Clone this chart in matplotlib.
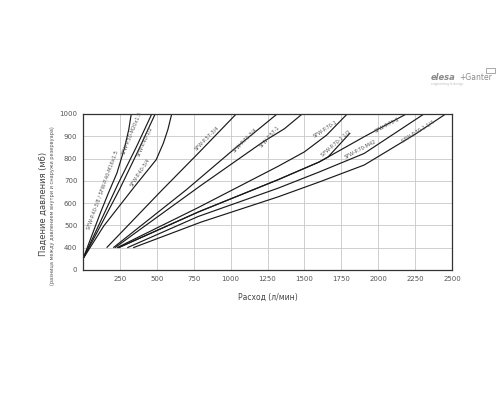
import matplotlib
matplotlib.use("Agg")
import matplotlib.pyplot as plt
from matplotlib.patches import Rectangle

# ---------------- data ----------------
a_x = [0, 60, 120, 175, 230, 280, 310, 327]
a_y = [350, 455, 560, 650, 735, 845, 930, 1000]
b_x = [0, 120, 240, 360, 466]
b_y = [350, 520, 690, 850, 1000]
c_x = [0, 120, 250, 370, 489]
c_y = [350, 500, 665, 830, 1000]
d_x = [0, 140, 350, 496, 545, 575, 601]
d_y = [350, 497, 675, 795, 870, 930, 1000]
e_x = [160, 530, 790, 1038]
e_y = [400, 655, 830, 1000]
f_x = [205, 700, 1016, 1315]
f_y = [400, 660, 838, 1000]
g_x = [216, 800, 1218, 1365, 1485]
g_y = [400, 680, 874, 934, 1000]
h_x = [230, 780, 1321, 1500, 1650, 1790]
h_y = [400, 580, 765, 830, 905, 1000]
i_x = [240, 780, 1321, 1601, 1660, 1810]
i_y = [400, 560, 705, 785, 807, 915]
j_x = [240, 780, 1321, 1601, 1905, 2190]
j_y = [400, 560, 705, 785, 898, 1000]
k_x = [300, 780, 1321, 1601, 1905, 2310]
k_y = [400, 540, 667, 740, 823, 1000]
l_x = [340, 800, 1321, 1601, 1905, 2243, 2457]
l_y = [400, 515, 628, 695, 771, 906, 1000]

series = [
    (a_x, a_y), (b_x, b_y), (c_x, c_y), (d_x, d_y), (e_x, e_y), (f_x, f_y),
    (g_x, g_y), (h_x, h_y), (i_x, i_y), (j_x, j_y), (k_x, k_y), (l_x, l_y),
]

labels = [
    "SFW-P.40-3/8 / SFW-P.40-M16x1.5", "SFW-P.50-M20x1.5", "SFW-P.40-1/2",
    "SFW-P.40-3/4", "SFW-P.57-3/4", "SFW-P.70-3/4", "SFW-P.57-1", "SFW-P.70-1",
    "SFW-P.70-1 1/2", "SFW-P.70-M42", "SFW-P.70-2", "SFW-P.70-1 1/4",
]
label_x = [135, 330, 413, 385, 835, 1095, 1263, 1640, 1714, 1877, 2063, 2266]
label_y = [660, 915, 876, 737, 890, 883, 898, 930, 867, 840, 949, 920]
label_rot = [70, 68, 66, 57, 45, 45, 48, 33, 41, 28, 28, 32]

x_ticks = [250, 500, 750, 1000, 1250, 1500, 1750, 2000, 2250, 2500]
y_ticks = [300, 400, 500, 600, 700, 800, 900, 1000]
y_tick_labels = ["0", "400", "500", "600", "700", "800", "900", "1000"]

# ---------------- figure ----------------
fig = plt.figure(figsize=(5, 4), dpi=100)
fig.patch.set_facecolor("white")
ax = fig.add_axes([0.166, 0.325, 0.738, 0.39])

for sx, sy in series:
    ax.plot(sx, sy, color="#1a1a1a", lw=0.85, solid_capstyle="butt")

for t, lx, ly, r in zip(labels, label_x, label_y, label_rot):
    ax.text(lx, ly, t, fontsize=3.6, color="#555555", rotation=r,
            ha="center", va="center", rotation_mode="anchor")

ax.set_xlim(0, 2500)
ax.set_ylim(300, 1000)
ax.set_xticks(x_ticks)
ax.set_yticks(y_ticks)
ax.set_yticklabels(y_tick_labels)
ax.tick_params(axis="both", length=0, labelsize=5, colors="#555555", pad=4)
ax.grid(True, color="#c8c8c8", lw=0.6)
ax.set_axisbelow(True)
for s in ax.spines.values():
    s.set_color("#333333")
    s.set_linewidth(0.9)

ax.set_xlabel("Расход (л/мин)", fontsize=5.5, color="#444444", labelpad=8)

fig.text(0.086, 0.49, "Падение давления (мб)", rotation=90, fontsize=6,
         color="#444444", ha="center", va="center")
fig.text(0.106, 0.485, "(разница между давлением внутри и снаружи резервуара)",
         rotation=90, fontsize=3.6, color="#555555", ha="center", va="center")

# logo
fig.text(0.862, 0.807, "elesa", fontsize=6, fontweight="bold", style="italic",
         color="#8a8a8a", ha="left", va="center")
fig.text(0.918, 0.807, "+Ganter", fontsize=5.5, color="#8a8a8a",
         ha="left", va="center")
fig.patches.append(Rectangle((0.972, 0.818), 0.018, 0.013, transform=fig.transFigure,
                             fill=False, edgecolor="#9a9a9a", lw=0.6))
fig.text(0.862, 0.789, "engineering & design", fontsize=2.2, color="#bbbbbb",
         ha="left", va="center")

fig.savefig("out.png", dpi=100, facecolor="white")
